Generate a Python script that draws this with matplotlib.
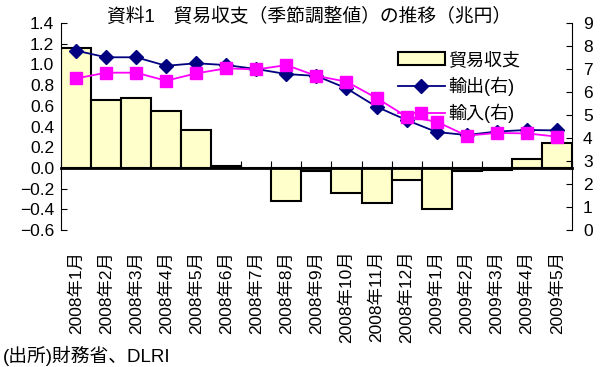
import numpy as np
import matplotlib
matplotlib.use('Agg')
import matplotlib.pyplot as plt
from matplotlib.transforms import blended_transform_factory

plt.rcParams['font.family'] = ['Liberation Sans', 'Noto Sans CJK JP']

months = ['2008年1月', '2008年2月', '2008年3月', '2008年4月', '2008年5月', '2008年6月',
          '2008年7月', '2008年8月', '2008年9月', '2008年10月', '2008年11月', '2008年12月',
          '2009年1月', '2009年2月', '2009年3月', '2009年4月', '2009年5月']
balance = [1.16, 0.66, 0.68, 0.55, 0.37, 0.02, 0.00, -0.32, -0.03, -0.24, -0.34,
           -0.12, -0.40, -0.03, -0.02, 0.09, 0.24]
exports = [7.80, 7.51, 7.51, 7.14, 7.25, 7.17, 7.00, 6.78, 6.70, 6.16, 5.36,
           4.78, 4.26, 4.13, 4.28, 4.35, 4.33]
imports = [6.59, 6.84, 6.84, 6.49, 6.81, 7.03, 6.98, 7.17, 6.70, 6.45, 5.74,
           4.93, 4.71, 4.10, 4.22, 4.20, 4.06]

x = np.arange(len(months))

fig = plt.figure(figsize=(6.01, 3.67), dpi=100)
ax = fig.add_axes([0.1015, 0.3733, 0.85, 0.564])

ax.bar(x, balance, width=1.0, color='#FFFFCC', edgecolor='black',
       linewidth=1.5, label='貿易収支', zorder=2)
ax.set_xlim(-0.5, len(months) - 0.5)
ax.set_ylim(-0.6, 1.4)
yt = np.arange(-0.6, 1.41, 0.2)
ax.set_yticks(yt)
ax.set_yticklabels(['%.1f' % v if v > -0.01 else '\u2212%.1f' % abs(v) for v in yt])
ax.tick_params(axis='y', direction='in', length=4, labelsize=12.5, pad=5)
ax.spines['top'].set_visible(False)
ax.spines['right'].set_visible(False)

# category axis sits on the zero line, ticks at the boundaries
ax.spines['bottom'].set_position(('data', 0))
ax.spines['bottom'].set_linewidth(2)
ax.set_xticks(np.arange(len(months) + 1) - 0.5)
ax.tick_params(axis='x', direction='in', length=5, labelbottom=False)

trans = blended_transform_factory(ax.transData, ax.transAxes)
for i, m in enumerate(months):
    ax.text(i, -0.1, m, rotation=90, ha='center', va='top', fontsize=12.5,
            transform=trans)

ax2 = ax.twinx()
ax2.plot(x, exports, color='#000080', marker='D', markersize=7, linewidth=1.3,
         label='輸出(右)')
ax2.plot(x, imports, color='#FF00FF', marker='s', markersize=9, linewidth=1.3,
         label='輸入(右)')
ax2.set_ylim(0, 9)
ax2.set_yticks(range(0, 10))
ax2.tick_params(axis='y', direction='in', length=4, labelsize=12.5, pad=8)
ax2.spines['top'].set_visible(False)
ax2.spines['bottom'].set_visible(False)
ax2.spines['left'].set_visible(False)

h1, l1 = ax.get_legend_handles_labels()
h2, l2 = ax2.get_legend_handles_labels()
ax2.legend(h1 + h2, l1 + l2, loc='upper left', bbox_to_anchor=(0.645, 0.895),
           frameon=False, fontsize=13, handlelength=2.6, labelspacing=0.42,
           handletextpad=0.2, borderaxespad=0)

fig.text(0.515, 0.955, '資料1　貿易収支（季節調整値）の推移（兆円）', ha='center',
         va='center', fontsize=13.5)
fig.text(0.005, 0.03, '(出所)財務省、DLRI', ha='left', va='center', fontsize=13.5)

fig.savefig('out.png', dpi=100)
